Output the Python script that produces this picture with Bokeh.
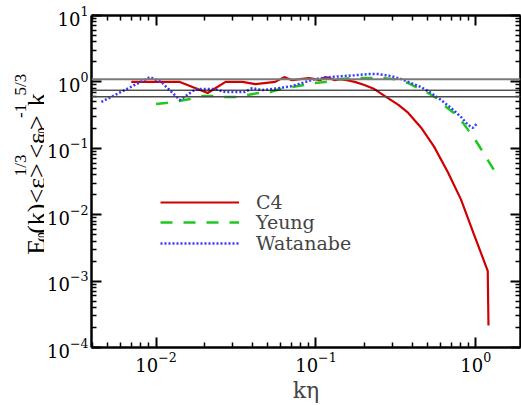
import math
from bokeh.plotting import figure
from bokeh.layouts import row
from bokeh.models import (LogAxis, FixedTicker, Span, Legend, LegendItem,
                          Range1d, CustomJSTickFormatter, ColumnDataSource)
from bokeh.core.properties import value
from bokeh.embed import file_html
from bokeh.resources import INLINE

# ---------------- data ----------------
c4_k = [0.00700, 0.01409, 0.02104, 0.02722, 0.03470, 0.04180, 0.0556, 0.0633, 0.0710,
        0.0796, 0.0906, 0.0986, 0.106, 0.114, 0.122, 0.131, 0.141, 0.156, 0.175, 0.201,
        0.232, 0.276, 0.328, 0.378, 0.455, 0.548, 0.670, 0.807, 0.972, 1.187, 1.20]
c4_e = [1.00, 1.00, 0.680, 1.00, 1.00, 0.927, 1.00, 1.18, 1.06, 1.10, 1.14, 1.10, 1.06,
        1.18, 1.14, 1.06, 1.10, 1.06, 1.00, 0.90, 0.78, 0.59, 0.45, 0.341, 0.204, 0.106,
        0.0432, 0.0170, 0.00509, 0.00143, 0.000214]

yeung_k = [0.0100, 0.0115, 0.0139, 0.0163, 0.0191, 0.0223, 0.0268, 0.0314, 0.0373, 0.0436,
           0.0518, 0.0597, 0.0710, 0.0842, 0.0986, 0.114, 0.139, 0.163, 0.193, 0.223,
           0.268, 0.310, 0.378, 0.424, 0.504, 0.565, 0.652, 0.730, 0.830, 0.905, 1.00,
           1.105, 1.204, 1.294]
yeung_e = [0.465, 0.482, 0.516, 0.553, 0.612, 0.612, 0.592, 0.592, 0.634, 0.680, 0.703,
           0.780, 0.836, 0.895, 0.959, 0.993, 1.10, 1.14, 1.14, 1.14, 1.14, 1.10, 0.959,
           0.836, 0.680, 0.572, 0.420, 0.341, 0.242, 0.183, 0.130, 0.0889, 0.0630, 0.0478]

wat_k = [0.00455, 0.00918, 0.01079, 0.01409, 0.01771, 0.02323, 0.02722, 0.03573, 0.0400,
         0.0462, 0.0589, 0.0710, 0.0855, 0.0986, 0.1205, 0.1450, 0.1746, 0.2133, 0.2460,
         0.2965, 0.3420, 0.3945, 0.4550, 0.5250, 0.6065, 0.6995, 0.8072, 0.8917, 0.9580,
         1.029]
wat_e = [0.499, 1.180, 0.993, 0.534, 0.780, 0.780, 0.703, 0.703, 0.807, 0.753, 0.807,
         0.865, 0.993, 1.10, 1.18, 1.22, 1.26, 1.31, 1.31, 1.22, 1.10, 0.959, 0.836, 0.680,
         0.534, 0.406, 0.297, 0.226, 0.203, 0.242]

ref_levels = [1.1, 0.75, 0.6]

series_names = ["C4", "Yeung", "Watanabe"]

x_major = [0.01, 0.1, 1.0]
x_minor = [m * d for d in (0.001, 0.01, 0.1) for m in range(2, 10)]
y_major = [1e-4, 1e-3, 1e-2, 1e-1, 1.0, 10.0]
y_minor = [m * d for d in (1e-4, 1e-3, 1e-2, 1e-1, 1.0) for m in range(2, 10)]

ytitle_text = ["E", "φ", "(k)<ε>", "1/3", "<ε", "φ", ">", "-1", "k", "5/3"]
ytitle_kind = ["main", "sub", "main", "sup", "main", "sub", "main", "sup", "main", "sup"]

FONT_TITLE = "Liberation Serif"
FONT_AXIS = "DejaVu Serif"

W, H = 521, 405
LEFT_W = 44

p = figure(width=W - LEFT_W, height=H, x_axis_type="log", y_axis_type="log",
           x_range=Range1d(0.003947, 1.903), y_range=Range1d(1e-4, 10),
           output_backend="svg", toolbar_location=None,
           min_border_left=88 - LEFT_W, min_border_right=1, min_border_top=15,
           min_border_bottom=56)
p.xgrid.visible = False
p.ygrid.visible = False
p.outline_line_color = None
p.background_fill_color = "white"
p.border_fill_color = "white"

xt = FixedTicker(ticks=x_major, minor_ticks=x_minor)
yt = FixedTicker(ticks=y_major, minor_ticks=y_minor)


def style_axis(ax):
    ax.axis_line_width = 2.5
    ax.axis_line_color = "black"
    ax.major_tick_in = 10
    ax.major_tick_out = 0
    ax.minor_tick_in = 5
    ax.minor_tick_out = 0
    ax.major_tick_line_width = 2
    ax.minor_tick_line_width = 1.5
    ax.major_tick_line_color = "black"
    ax.minor_tick_line_color = "black"
    ax.major_label_text_font = FONT_AXIS
    ax.major_label_text_font_style = "normal"
    ax.major_label_text_color = "black"
    ax.major_label_text_font_size = "18px"


p.xaxis.ticker = xt
p.yaxis.ticker = yt
style_axis(p.xaxis[0])
style_axis(p.yaxis[0])
p.xaxis.major_label_standoff = 4
p.yaxis.major_label_standoff = 3
p.xaxis.axis_label = "kη"
p.xaxis.axis_label_text_font = FONT_AXIS
p.xaxis.axis_label_text_font_style = "normal"
p.xaxis.axis_label_text_font_size = "22px"
p.xaxis.axis_label_standoff = 3

blank = CustomJSTickFormatter(code="return ''")
top = LogAxis(ticker=xt, formatter=blank)
style_axis(top)
top.major_label_standoff = 0
p.add_layout(top, "above")
right = LogAxis(ticker=yt, formatter=blank)
style_axis(right)
right.major_label_standoff = 0
p.add_layout(right, "right")

span_styles = [("#7a7a7a", 2.0), ("#000000", 1.0), ("#4a4a4a", 1.5)]
for lev, (col, w) in zip(ref_levels, span_styles):
    p.add_layout(Span(location=lev, dimension="width", line_color=col, line_width=w))

r1 = p.line(c4_k, c4_e, line_color="#d00000", line_width=2.2)
r2 = p.line(yeung_k, yeung_e, line_color="#1ec81e", line_width=2.5, line_dash="12 11")
r3 = p.line(wat_k, wat_e, line_color="#3a3aff", line_width=2.5, line_dash="2 2")

for name, rend, vy in zip(series_names, [r1, r2, r3], [134, 114, 93]):
    lg = Legend(items=[LegendItem(label=name, renderers=[rend])],
                location=(69, vy), orientation="vertical",
                glyph_width=79, glyph_height=20, label_standoff=17, spacing=0,
                padding=0, margin=0, border_line_alpha=0, background_fill_alpha=0,
                label_text_font=FONT_AXIS, label_text_font_style="normal",
                label_text_font_size="19px")
    p.add_layout(lg)

# narrow left panel with the rotated y-axis title (pixel coordinates)
q = figure(width=LEFT_W, height=H, x_range=Range1d(0, LEFT_W), y_range=Range1d(0, H),
           output_backend="svg", toolbar_location=None, min_border=0,
           x_axis_location=None, y_axis_location=None)
q.xgrid.visible = False
q.ygrid.visible = False
q.outline_line_color = None
q.background_fill_color = "white"
q.border_fill_color = "white"

col_x = {"main": 36, "sub": 40, "sup": 20}
col_size = {"main": "26px", "sub": "17px", "sup": "17px"}
start_y = [292.0, 276.1, 266.3, 196.2, 174.5, 148.4, 139.6, 124.9, 110.7, 97.7]

for kind in ("main", "sub", "sup"):
    idx = [i for i, k in enumerate(ytitle_kind) if k == kind]
    src = ColumnDataSource(dict(x=[col_x[kind]] * len(idx),
                                y=[H - start_y[i] for i in idx],
                                t=[ytitle_text[i] for i in idx]))
    q.text(x="x", y="y", text="t", source=src, angle=math.pi / 2,
           text_font=value(FONT_TITLE), text_font_size=value(col_size[kind]),
           text_align="left", text_baseline="alphabetic", text_color="black")

layout = row(q, p)
open("out.html", "w").write(file_html(layout, INLINE))
